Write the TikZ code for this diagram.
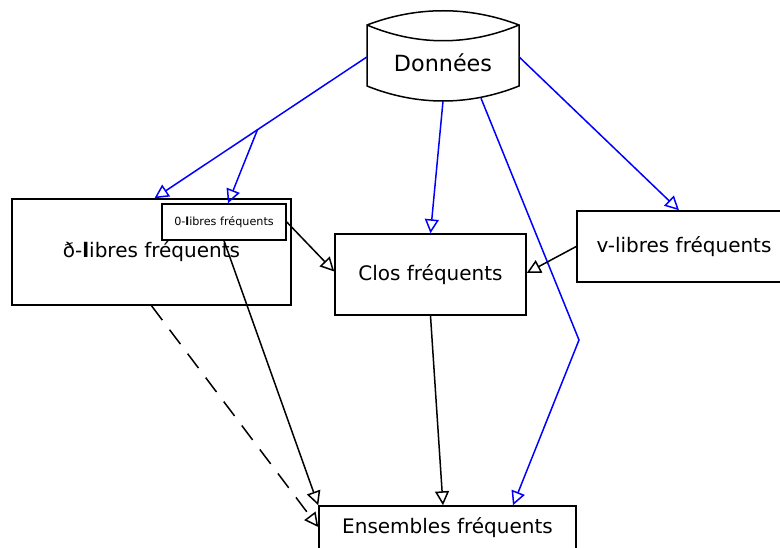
\documentclass[tikz,border=0pt]{standalone}
\usepackage{fontspec}
\setmainfont{DejaVu Sans}
\usepackage{tikz}
\usetikzlibrary{arrows.meta,positioning}

\tikzset{
  box/.style={draw, line width=1.5pt, inner sep=0pt},
  bigtxt/.style={font=\fontsize{20}{24}\selectfont},
  smalltxt/.style={font=\fontsize{11.2}{13}\selectfont},
  edge/.style={line width=1.5pt, -{Triangle[open,length=14pt,width=14pt,line width=1.5pt]}},
  blueedge/.style={edge, blue},
}

\begin{document}
\begin{tikzpicture}[x=1pt,y=-1pt]
  \useasboundingbox (0,0) rectangle (780,548);
  %draw the data store
    \draw[line width=1.5pt] (367,25) .. controls (417,6) and (469,6) .. (519,25)
          -- (519,86) .. controls (469,106) and (417,106) .. (367,86) -- cycle;
    \draw[line width=1.5pt] (367,25) .. controls (417,46) and (469,46) .. (519,25);
    \node[font=\fontsize{22.3}{26}\selectfont, minimum width=152pt, minimum height=76pt] (data) at (443,63) {Données};
  %draw boxes
    \node[box, bigtxt, minimum width=279pt, minimum height=106pt] (dlib) at (151.5,252) {ð-\textbf{l}ibres fréquents};
    \node[box, smalltxt, fill=white, minimum width=124pt, minimum height=36pt] (zlib) at (224,222) {0-\textbf{l}ibres fréquents};
    \node[box, bigtxt, minimum width=191pt, minimum height=81pt] (clos) at (430.5,274.5) {Clos fréquents};
    \node[box, bigtxt, minimum width=214pt, minimum height=71pt] (vlib) at (684,246.5) {v-libres fréquents};
    \node[box, bigtxt, minimum width=257pt, minimum height=44pt] (ens) at (447.5,528) {Ensembles fréquents};
  %draw blue edges
    \draw[blueedge] ([yshift=6pt]data.west) -- coordinate[pos=.515] (split) ([xshift=3pt]dlib.north);
    \draw[blueedge] (split) -- ([xshift=4pt]zlib.north);
    \draw[blueedge] (data.south) -- (clos.north);
    \draw[blueedge] ([xshift=38pt,yshift=3pt]data.south) -- (579,340) -- ([xshift=65.5pt]ens.north);
    \draw[blueedge] ([yshift=6pt]data.east) -- ([xshift=-5pt]vlib.north);
  %draw black edges
    \draw[edge] (zlib.east) -- ([yshift=3pt]clos.west);
    \draw[edge] (vlib.west) -- ([yshift=1.5pt]clos.east);
    \draw[edge] (zlib.south) -- (ens.north west);
    \draw[edge] (clos.south) -- ([xshift=-4.5pt]ens.north);
    \draw[edge, dash pattern=on 18pt off 12pt] (dlib.south) -- ([yshift=1pt]ens.west);
\end{tikzpicture}
\end{document}
